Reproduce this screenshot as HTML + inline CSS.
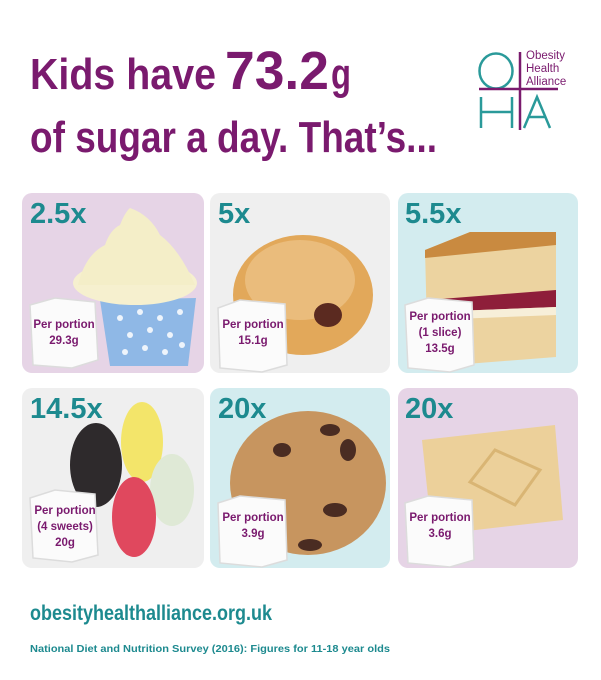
<!DOCTYPE html>
<html><head><meta charset="utf-8"><style>
html,body{margin:0;padding:0;background:#fff;}
svg{display:block;font-family:"Liberation Sans",sans-serif;}
.m{fill:#1d8a8f;font-weight:bold;font-size:29px;}
.p{fill:#7a1a6e;font-weight:bold;font-size:11.5px;text-anchor:middle;}
</style></head><body>
<svg width="601" height="680" viewBox="0 0 601 680" xmlns="http://www.w3.org/2000/svg">
<rect width="601" height="680" fill="#fff"/>
<text x="30" y="89" fill="#7a1a6e" font-weight="bold" font-size="44" textLength="186" lengthAdjust="spacingAndGlyphs">Kids have</text>
<text x="225" y="89" fill="#7a1a6e" font-weight="bold" font-size="54" textLength="104" lengthAdjust="spacingAndGlyphs">73.2</text>
<text x="331" y="89" fill="#7a1a6e" font-weight="bold" font-size="44" textLength="20" lengthAdjust="spacingAndGlyphs">g</text>
<text x="30" y="152" fill="#7a1a6e" font-weight="bold" font-size="44" textLength="407" lengthAdjust="spacingAndGlyphs">of sugar a day. That’s...</text>
<ellipse cx="496" cy="71" rx="16.5" ry="17.5" fill="none" stroke="#2a9a9a" stroke-width="2.5"/>
<line x1="520" y1="52" x2="520" y2="130" stroke="#7a1a6e" stroke-width="2.5"/>
<line x1="479" y1="89" x2="558" y2="89" stroke="#7a1a6e" stroke-width="2.5"/>
<path d="M481 97V128M512 97V128M481 112H512" stroke="#2a9a9a" stroke-width="2.5" fill="none"/>
<path d="M524 128L537 97L550 128M529 117H545" stroke="#2a9a9a" stroke-width="2.5" fill="none"/>
<text x="526" y="59" fill="#7a1a6e" font-size="11.5">Obesity</text>
<text x="526" y="72" fill="#7a1a6e" font-size="11.5">Health</text>
<text x="526" y="85" fill="#7a1a6e" font-size="11.5">Alliance</text>
<rect x="22" y="193" width="182" height="180" rx="10" fill="#e6d4e6"/>
<rect x="210" y="193" width="180" height="180" rx="10" fill="#efefef"/>
<rect x="398" y="193" width="180" height="180" rx="10" fill="#d3ecef"/>
<rect x="22" y="388" width="182" height="180" rx="10" fill="#efefef"/>
<rect x="210" y="388" width="180" height="180" rx="10" fill="#d3ecef"/>
<rect x="398" y="388" width="180" height="180" rx="10" fill="#e6d4e6"/>
<path d="M100 300L196 298L188 366L110 366Z" fill="#8fb8e6"/>
<g fill="#fff" opacity="0.85"><circle cx="120" cy="318" r="3"/><circle cx="140" cy="312" r="3"/><circle cx="160" cy="318" r="3"/><circle cx="180" cy="312" r="3"/><circle cx="130" cy="335" r="3"/><circle cx="150" cy="330" r="3"/><circle cx="170" cy="335" r="3"/><circle cx="125" cy="352" r="3"/><circle cx="145" cy="348" r="3"/><circle cx="165" cy="352" r="3"/><circle cx="182" cy="345" r="3"/></g>
<ellipse cx="135" cy="283" rx="62" ry="22" fill="#f6f0cf"/>
<path d="M78 285Q85 255 105 245Q110 230 120 225Q125 212 130 208Q150 215 160 235Q180 250 195 285Z" fill="#f4eec8"/>
<ellipse cx="303" cy="295" rx="70" ry="60" fill="#e2a85a"/>
<ellipse cx="300" cy="280" rx="55" ry="40" fill="#eec48a" opacity="0.7"/>
<ellipse cx="328" cy="315" rx="14" ry="12" fill="#5b2a20"/>
<path d="M425 250L470 232L556 232L556 357L428 367Z" fill="#ecd3a0"/>
<path d="M425 250L470 232L556 232L556 245L425 258Z" fill="#c98a40"/>
<path d="M428 300L556 290L556 307L428 312Z" fill="#8e1e3a"/>
<path d="M428 312L556 307L556 315L428 320Z" fill="#f7efd9"/>
<ellipse cx="142" cy="442" rx="21" ry="40" fill="#f3e56a"/>
<ellipse cx="96" cy="465" rx="26" ry="42" fill="#2e2a2c"/>
<ellipse cx="172" cy="490" rx="22" ry="36" fill="#dfe9d6"/>
<ellipse cx="134" cy="517" rx="22" ry="40" fill="#e0485e"/>
<ellipse cx="308" cy="483" rx="78" ry="72" fill="#c7955f"/>
<g fill="#4a2c22"><ellipse cx="330" cy="430" rx="10" ry="6"/><ellipse cx="282" cy="450" rx="9" ry="7"/><ellipse cx="348" cy="450" rx="8" ry="11"/><ellipse cx="335" cy="510" rx="12" ry="7"/><ellipse cx="310" cy="545" rx="12" ry="6"/></g>
<path d="M422 440L555 425L563 520L432 535Z" fill="#ecd09a"/>
<path d="M470 482L495 450L540 470L515 505Z" fill="none" stroke="#d9b574" stroke-width="3"/>
<g fill="#fbfbfb" stroke="#dcdcdc" stroke-width="1.5">
<path d="M30 305L55 298L95 302L98 360L72 368L33 365Z"/>
<path d="M218 308L240 300L285 304L287 365L262 372L220 368Z"/>
<path d="M405 305L428 298L472 302L474 365L450 372L408 368Z"/>
<path d="M30 498L55 490L95 494L98 555L72 562L33 558Z"/>
<path d="M218 503L240 496L285 500L287 560L262 567L220 563Z"/>
<path d="M405 503L428 496L472 500L474 560L450 567L408 563Z"/>
</g>
<text class="m" x="30" y="223">2.5x</text>
<text class="m" x="218" y="223">5x</text>
<text class="m" x="405" y="223">5.5x</text>
<text class="m" x="30" y="418">14.5x</text>
<text class="m" x="218" y="418">20x</text>
<text class="m" x="405" y="418">20x</text>
<text class="p" x="64" y="328">Per portion</text><text class="p" x="64" y="344">29.3g</text>
<text class="p" x="253" y="328">Per portion</text><text class="p" x="253" y="344">15.1g</text>
<text class="p" x="440" y="320">Per portion</text><text class="p" x="440" y="336">(1 slice)</text><text class="p" x="440" y="352">13.5g</text>
<text class="p" x="65" y="514">Per portion</text><text class="p" x="65" y="530">(4 sweets)</text><text class="p" x="65" y="546">20g</text>
<text class="p" x="253" y="521">Per portion</text><text class="p" x="253" y="537">3.9g</text>
<text class="p" x="440" y="521">Per portion</text><text class="p" x="440" y="537">3.6g</text>
<text x="30" y="620" fill="#1d8a8f" font-weight="bold" font-size="21" textLength="242" lengthAdjust="spacingAndGlyphs">obesityhealthalliance.org.uk</text>
<text x="30" y="652" fill="#1d8a8f" font-weight="bold" font-size="10.5" textLength="360" lengthAdjust="spacingAndGlyphs">National Diet and Nutrition Survey (2016): Figures for 11-18 year olds</text>
</svg>
</body></html>
